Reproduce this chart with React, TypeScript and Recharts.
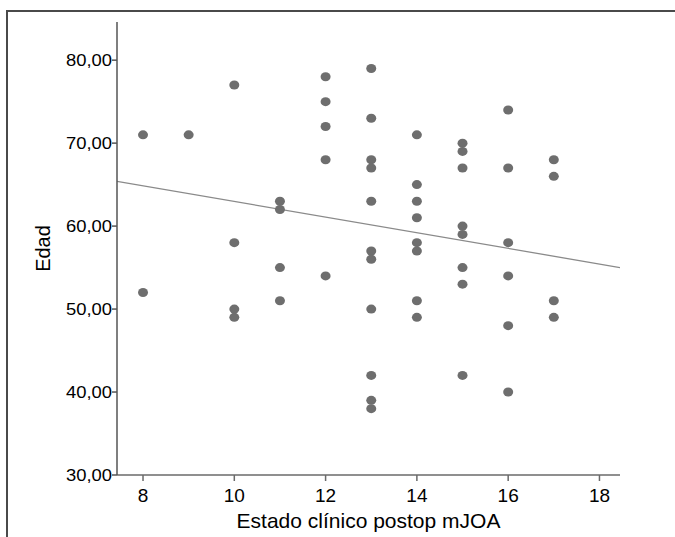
import React from 'react';
import {
  ScatterChart,
  Scatter,
  XAxis,
  YAxis,
  ReferenceLine,
} from 'recharts';

// postop mJOA score for each column of dots
const mjoaScores = [8, 9, 10, 11, 12, 13, 14, 15, 16, 17];

// ages (Edad) read for each score, same order as mjoaScores
const agesByScore = [
  [71, 52],
  [71],
  [77, 58, 50, 49],
  [63, 62, 55, 51],
  [78, 75, 72, 68, 54],
  [79, 73, 68, 67, 63, 57, 56, 50, 42, 39, 38],
  [71, 65, 63, 61, 58, 57, 51, 49],
  [70, 69, 67, 60, 59, 55, 53, 42],
  [74, 67, 58, 54, 48, 40],
  [68, 66, 51, 49],
];

const xTicks = [8, 10, 12, 14, 16, 18];
const yTicks = [30, 40, 50, 60, 70, 80];

// fit line as drawn, read at both ends of the x axis
const fitX = [7.43, 18.45];
const fitY = [65.4, 55.0];

const points = mjoaScores.flatMap((score, i) =>
  agesByScore[i].map((age) => ({ score, age }))
);

const FONT = 'Liberation Sans, Arial, sans-serif';

const Dot = (props: any) => {
  const { cx, cy } = props;
  if (cx == null || cy == null) return null;
  return <ellipse cx={cx} cy={cy} rx={5} ry={4.5} fill="#6e6e6e" />;
};

const YTick = (props: any) => {
  const { x, y, payload } = props;
  const label = Number(payload.value).toFixed(2).replace('.', ',');
  return (
    <g transform={`translate(${x},${y})`}>
      <text
        transform="scale(1.15,1)"
        textAnchor="end"
        dy="0.36em"
        fontSize={16}
        fill="#000"
        fontFamily={FONT}
      >
        {label}
      </text>
    </g>
  );
};

const XTick = (props: any) => {
  const { x, y, payload } = props;
  return (
    <g transform={`translate(${x},${y})`}>
      <text
        textAnchor="middle"
        dy="0.71em"
        fontSize={19}
        fill="#000"
        fontFamily={FONT}
      >
        {payload.value}
      </text>
    </g>
  );
};

export default function App() {
  return (
    <div
      style={{
        position: 'absolute',
        left: 0,
        top: 0,
        width: 675,
        height: 537,
        overflow: 'hidden',
        background: '#fff',
        fontFamily: FONT,
      }}
    >
      {/* outer frame, only top and left edges are visible */}
      <svg
        width={675}
        height={537}
        style={{ position: 'absolute', left: 0, top: 0 }}
      >
        <path d="M7,537 L7,11 L675,11" fill="none" stroke="#4a4a4a" strokeWidth={2} />
      </svg>
      <div style={{ position: 'absolute', left: 0, top: 0 }}>
        <ScatterChart
          width={675}
          height={537}
          margin={{ top: 22, right: 55, bottom: 0, left: 0 }}
        >
          <XAxis
            type="number"
            dataKey="score"
            domain={[fitX[0], fitX[1]]}
            ticks={xTicks}
            allowDataOverflow
            height={62}
            stroke="#6a6a6a"
            strokeWidth={1.5}
            tickSize={6}
            tickMargin={7}
            tick={<XTick />}
            label={{
              value: 'Estado clínico postop mJOA',
              position: 'insideBottom',
              offset: 9,
              fontSize: 21,
              fill: '#000',
            }}
          />
          <YAxis
            type="number"
            dataKey="age"
            domain={[30, 84.6]}
            ticks={yTicks}
            allowDataOverflow
            width={117}
            stroke="#555"
            strokeWidth={1.5}
            tickSize={5}
            tickMargin={0}
            tick={<YTick />}
            label={{
              value: 'Edad',
              angle: -90,
              position: 'insideLeft',
              offset: 43,
              fontSize: 20,
              fill: '#000',
              style: { textAnchor: 'middle' },
            }}
          />
          <ReferenceLine
            segment={[
              { x: fitX[0], y: fitY[0] },
              { x: fitX[1], y: fitY[1] },
            ]}
            stroke="#8a8a8a"
            strokeWidth={1.3}
            ifOverflow="hidden"
          />
          <Scatter
            data={points}
            shape={<Dot />}
            isAnimationActive={false}
          />
        </ScatterChart>
      </div>
    </div>
  );
}
